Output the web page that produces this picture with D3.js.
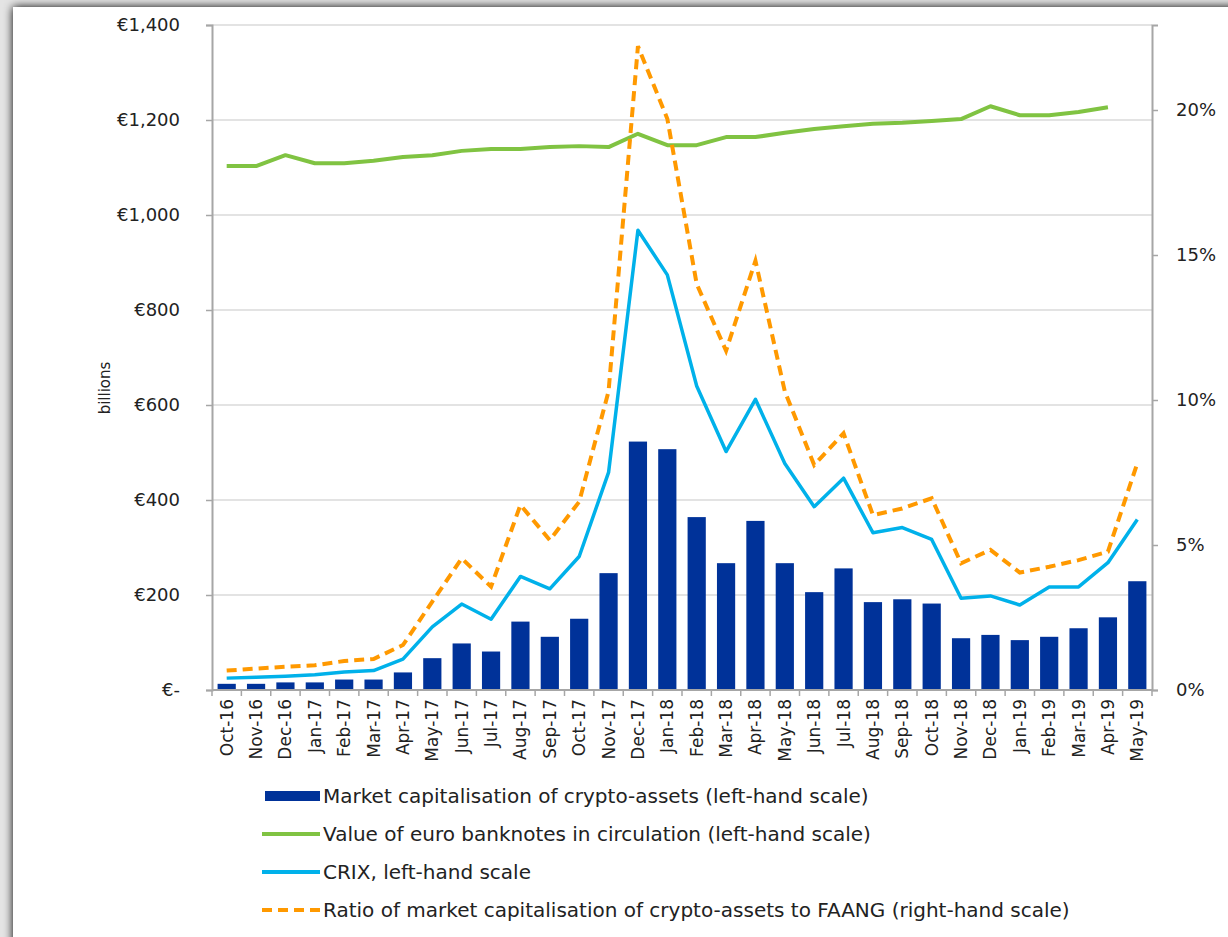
<!DOCTYPE html>
<html>
<head>
<meta charset="utf-8">
<script src="https://cdn.jsdelivr.net/npm/d3@7"></script>
<style>
  body { margin: 0; background: #e4e4e4; }
  text { font-family: "DejaVu Sans", Verdana, sans-serif; fill: #222; }
</style>
</head>
<body>
<script>
// months on the x axis
var months = ["Oct-16","Nov-16","Dec-16","Jan-17","Feb-17","Mar-17","Apr-17","May-17","Jun-17","Jul-17","Aug-17","Sep-17",
  "Oct-17","Nov-17","Dec-17","Jan-18","Feb-18","Mar-18","Apr-18","May-18","Jun-18","Jul-18","Aug-18","Sep-18",
  "Oct-18","Nov-18","Dec-18","Jan-19","Feb-19","Mar-19","Apr-19","May-19"];

// market capitalisation of crypto-assets, EUR bn (bars, left)
var marketCap = [13,13,16,16,22,22,37,67,98,81,144,112,150,246,523,507,364,267,356,267,206,256,185,191,182,109,116,105,112,130,153,229];

// euro banknotes in circulation, EUR bn (left) - no value for May-19
var banknotes = [1103,1103,1126,1109,1109,1114,1122,1126,1135,1139,1139,1143,1145,1143,1171,1147,1147,1164,1164,1173,1181,1187,1192,1194,1198,1202,1229,1210,1210,1217,1227,null];

// CRIX (left)
var crix = [25,27,29,32,38,41,65,133,181,149,239,213,281,458,968,874,640,502,612,477,386,446,331,342,317,193,198,179,217,217,268,359];

// ratio crypto-assets / FAANG, % (right)
var ratio = [0.67,0.74,0.80,0.85,1.0,1.07,1.55,3.05,4.54,3.56,6.38,5.17,6.49,10.3,22.2,19.7,14.0,11.7,14.8,10.3,7.76,8.85,6.03,6.26,6.61,4.37,4.83,4.05,4.25,4.48,4.77,7.82];

var leftTicks = [0,200,400,600,800,1000,1200,1400];
var rightTicks = [0,5,10,15,20];

var legendItems = [
  {label: "Market capitalisation of crypto-assets (left-hand scale)", type: "bar", color: "#003299"},
  {label: "Value of euro banknotes in circulation (left-hand scale)", type: "line", color: "#80c342"},
  {label: "CRIX, left-hand scale", type: "line", color: "#00b1ea"},
  {label: "Ratio of market capitalisation of crypto-assets to FAANG (right-hand scale)", type: "dash", color: "#ff9900"}
];

var width = 1228, height = 937;
var plotL = 212, plotR = 1152, plotT = 25, plotB = 690;
var font = "DejaVu Sans, Verdana, sans-serif";

var svg = d3.select("body").append("svg")
    .attr("width", width)
    .attr("height", height);

var defs = svg.append("defs");
var f = defs.append("filter").attr("id", "shadow").attr("x", "-5%").attr("y", "-5%").attr("width", "110%").attr("height", "110%");
f.append("feGaussianBlur").attr("in", "SourceAlpha").attr("stdDeviation", 5);
var fm = f.append("feMerge");
fm.append("feMergeNode");
fm.append("feMergeNode").attr("in", "SourceGraphic");

// white panel
svg.append("rect")
    .attr("x", 13).attr("y", 7)
    .attr("width", width + 20).attr("height", height + 20)
    .attr("fill", "#fff")
    .style("filter", "url(#shadow)");

var x = d3.scaleBand()
    .domain(months)
    .range([plotL, plotR])
    .paddingInner(0.38)
    .paddingOuter(0.19);

var y = d3.scaleLinear().domain([0, 1400]).range([plotB, plotT]);
// right axis: 20% sits at about 580px above the baseline
var yR = d3.scaleLinear().domain([0, 20 * (plotB - plotT) / 580]).range([plotB, plotT]);

var cx = function (i) { return x(months[i]) + x.bandwidth() / 2; };

// gridlines
svg.append("g")
    .selectAll("line")
    .data(leftTicks.filter(function (d) { return d > 0; }))
    .enter().append("line")
    .attr("x1", plotL).attr("x2", plotR)
    .attr("y1", function (d) { return y(d); })
    .attr("y2", function (d) { return y(d); })
    .attr("stroke", "#dadada")
    .attr("stroke-width", 1.5);

// bars
svg.append("g")
    .selectAll("rect")
    .data(marketCap)
    .enter().append("rect")
    .attr("x", function (d, i) { return x(months[i]); })
    .attr("width", x.bandwidth())
    .attr("y", function (d) { return y(d); })
    .attr("height", function (d) { return y(0) - y(d); })
    .attr("fill", "#003299");

var lineL = d3.line()
    .defined(function (d) { return d != null; })
    .x(function (d, i) { return cx(i); })
    .y(function (d) { return y(d); });

var lineR = d3.line()
    .x(function (d, i) { return cx(i); })
    .y(function (d) { return yR(d); });

svg.append("path")
    .datum(banknotes)
    .attr("d", lineL)
    .attr("fill", "none")
    .attr("stroke", "#80c342")
    .attr("stroke-width", 4)
    .attr("stroke-linejoin", "round");

svg.append("path")
    .datum(crix)
    .attr("d", lineL)
    .attr("fill", "none")
    .attr("stroke", "#00b1ea")
    .attr("stroke-width", 3.5)
    .attr("stroke-linejoin", "round");

svg.append("path")
    .datum(ratio)
    .attr("d", lineR)
    .attr("fill", "none")
    .attr("stroke", "#ff9900")
    .attr("stroke-width", 4)
    .attr("stroke-dasharray", "10,6");

// left axis
var gl = svg.append("g")
    .attr("transform", "translate(" + plotL + ",0)")
    .call(d3.axisLeft(y).tickValues(leftTicks).tickSize(6).tickPadding(26)
        .tickFormat(function (d) { return d === 0 ? "€-" : "€" + d3.format(",")(d); }));
gl.select(".domain").attr("stroke", "#a6a6a6").attr("stroke-width", 2);
gl.selectAll(".tick line").attr("stroke", "#a6a6a6").attr("stroke-width", 1.5);
gl.selectAll("text").attr("font-size", 18).attr("fill", "#222").style("font-family", font);

// right axis
var gr = svg.append("g")
    .attr("transform", "translate(" + plotR + ",0)")
    .call(d3.axisRight(yR).tickValues(rightTicks).tickSize(6).tickPadding(18)
        .tickFormat(function (d) { return d + "%"; }));
gr.select(".domain").attr("stroke", "#a6a6a6").attr("stroke-width", 2);
gr.selectAll(".tick line").attr("stroke", "#a6a6a6").attr("stroke-width", 1.5);
gr.selectAll("text").attr("font-size", 18).attr("fill", "#222").style("font-family", font);

// x axis: ticks between categories
var gx = svg.append("g");
gx.append("line")
    .attr("x1", plotL).attr("x2", plotR)
    .attr("y1", plotB).attr("y2", plotB)
    .attr("stroke", "#a6a6a6").attr("stroke-width", 2);
var step = x.step();
var x0 = x(months[0]) - (step - x.bandwidth()) / 2;
gx.selectAll(".xt")
    .data(d3.range(months.length + 1))
    .enter().append("line")
    .attr("x1", function (i) { return x0 + i * step; })
    .attr("x2", function (i) { return x0 + i * step; })
    .attr("y1", plotB).attr("y2", plotB + 6)
    .attr("stroke", "#a6a6a6").attr("stroke-width", 1.5);

gx.selectAll(".xl")
    .data(months)
    .enter().append("text")
    .attr("transform", function (d, i) { return "translate(" + (cx(i) + 6) + "," + (plotB + 9) + ") rotate(-90)"; })
    .attr("text-anchor", "end")
    .attr("font-size", 17)
    .text(function (d) { return d; });

// y label
svg.append("text")
    .attr("transform", "translate(110,388) rotate(-90)")
    .attr("text-anchor", "middle")
    .attr("font-size", 15)
    .text("billions");

// legend
var lg = svg.append("g").attr("transform", "translate(262,796)");
var rows = lg.selectAll("g")
    .data(legendItems)
    .enter().append("g")
    .attr("transform", function (d, i) { return "translate(0," + (i * 38) + ")"; });
rows.each(function (d) {
    var g = d3.select(this);
    if (d.type === "bar") {
        g.append("rect").attr("x", 3).attr("y", -5).attr("width", 55).attr("height", 10).attr("fill", d.color);
    } else {
        g.append("line").attr("x1", 0).attr("x2", 58).attr("y1", 0).attr("y2", 0)
            .attr("stroke", d.color).attr("stroke-width", 4)
            .attr("stroke-dasharray", d.type === "dash" ? "10,6" : null);
    }
    g.append("text").attr("x", 61).attr("y", 7).attr("font-size", 20).text(d.label);
});
</script>
</body>
</html>
